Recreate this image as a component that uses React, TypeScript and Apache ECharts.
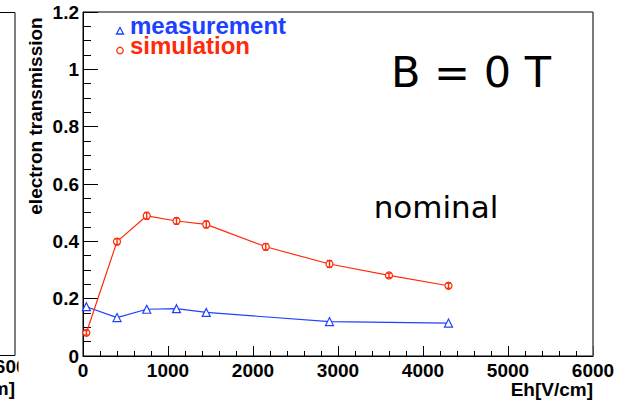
import React, { useEffect, useRef } from "react";
import * as echarts from "echarts";

const eh = [40, 400, 750, 1100, 1450, 2150, 2900, 3600, 4300];
const simulation = [0.081, 0.399, 0.489, 0.471, 0.459, 0.381, 0.321, 0.281, 0.245];
const simulationErr = [0.008, 0.01, 0.012, 0.011, 0.012, 0.011, 0.012, 0.008, 0.009];
const measEh = [40, 400, 750, 1100, 1450, 2900, 4300];
const measurement = [0.172, 0.134, 0.163, 0.165, 0.152, 0.12, 0.115];
const xTicks = [0, 1000, 2000, 3000, 4000, 5000, 6000];
const yTicks = [0, 0.2, 0.4, 0.6, 0.8, 1, 1.2];
const legendNames = ["measurement", "simulation"];
const xTitle = "Eh[V/cm]";
const yTitle = "electron transmission";

const RED = "#ff2a0a";
const BLUE = "#2040ff";
const FONT = "'Liberation Sans', Arial, Helvetica, sans-serif";
const HAND = "'Comic Sans MS', 'DejaVu Sans', sans-serif";

export default function App() {
  const ref = useRef<HTMLDivElement>(null);
  useEffect(() => {
    if (!ref.current) return;
    const chart = echarts.init(ref.current, undefined, { renderer: "svg" });
    const option: any = {
      animation: false,
      backgroundColor: "#fff",
      grid: {
        left: 83,
        right: 41,
        top: 12,
        bottom: 45,
        outerBoundsMode: "none",
        containLabel: false,
        show: true,
        borderColor: "#000",
        borderWidth: 1,
      },
      xAxis: {
        type: "value",
        min: xTicks[0],
        max: xTicks[xTicks.length - 1],
        interval: 1000,
        splitLine: { show: false },
        axisLine: { lineStyle: { color: "#000", width: 1 } },
        axisTick: { inside: true, length: 10, lineStyle: { color: "#000" } },
        minorTick: { show: true, splitNumber: 5, length: 5, lineStyle: { color: "#000" } },
        axisLabel: {
          margin: 7,
          fontFamily: FONT,
          fontWeight: "bold",
          fontSize: 19,
          lineHeight: 15,
          color: "#000",
          formatter: (v: number) => String(v),
        },
      },
      yAxis: {
        type: "value",
        min: yTicks[0],
        max: yTicks[yTicks.length - 1],
        interval: 0.2,
        splitLine: { show: false },
        axisLine: { show: true, lineStyle: { color: "#000", width: 1 } },
        axisTick: { show: true, inside: true, length: 15, lineStyle: { color: "#000" } },
        minorTick: { show: true, splitNumber: 4, length: 8, lineStyle: { color: "#000" } },
        axisLabel: {
          margin: 4,
          fontFamily: FONT,
          fontWeight: "bold",
          fontSize: 19,
          color: "#000",
          formatter: (v: number) => String(Math.round(v * 10) / 10),
        },
      },
      graphic: [
        {
          type: "line",
          shape: { x1: 593, y1: 12, x2: 593, y2: 356 },
          style: { stroke: "#777", lineWidth: 1.2 },
          z: 10,
        },
        // edge of neighbouring panel
        { type: "line", shape: { x1: 15, y1: 12.5, x2: 15, y2: 355.5 }, style: { stroke: "#000", lineWidth: 1 } },
        { type: "line", shape: { x1: 0, y1: 12.5, x2: 15, y2: 12.5 }, style: { stroke: "#000", lineWidth: 1 } },
        { type: "line", shape: { x1: 0, y1: 355.5, x2: 15, y2: 355.5 }, style: { stroke: "#000", lineWidth: 1 } },
        {
          type: "text",
          x: 16,
          y: 366,
          style: {
            text: "6000",
            fontFamily: FONT,
            fontWeight: "bold",
            fontSize: 19,
            lineHeight: 15,
            fill: "#000",
            align: "center",
            verticalAlign: "middle",
          },
          z: 1,
        },
        { type: "rect", shape: { x: 18.5, y: 357, width: 40, height: 22 }, style: { fill: "#fff" }, z: 2 },
        {
          type: "text",
          x: 15,
          y: 388,
          style: {
            text: "[V/cm]",
            fontFamily: FONT,
            fontWeight: "bold",
            fontSize: 19,
            lineHeight: 15,
            fill: "#000",
            align: "right",
            verticalAlign: "middle",
          },
        },
        {
          type: "text",
          x: 593,
          y: 389,
          style: {
            text: xTitle,
            fontFamily: FONT,
            fontWeight: "bold",
            fontSize: 19,
            lineHeight: 15,
            fill: "#000",
            align: "right",
            verticalAlign: "middle",
          },
        },
        {
          type: "text",
          x: 35,
          y: 116,
          rotation: Math.PI / 2,
          style: {
            text: yTitle,
            fontFamily: FONT,
            fontWeight: "bold",
            fontSize: 19,
            fill: "#000",
            align: "center",
            verticalAlign: "middle",
          },
        },
        // legend
        {
          type: "polygon",
          shape: { points: [[120, 27.5], [116.5, 34], [123.5, 34]] },
          style: { fill: "#fff", stroke: BLUE, lineWidth: 1.3 },
        },
        {
          type: "circle",
          shape: { cx: 120, cy: 50.5, r: 3.2 },
          style: { fill: "#fff", stroke: RED, lineWidth: 1.3 },
        },
        {
          type: "text",
          x: 130,
          y: 35,
          style: {
            text: legendNames[0],
            fontFamily: FONT,
            fontWeight: "bold",
            fontSize: 24,
            lineHeight: 20,
            fill: BLUE,
            align: "left",
            verticalAlign: "bottom",
          },
        },
        {
          type: "text",
          x: 130,
          y: 55,
          style: {
            text: legendNames[1],
            fontFamily: FONT,
            fontWeight: "bold",
            fontSize: 24,
            lineHeight: 20,
            fill: RED,
            align: "left",
            verticalAlign: "bottom",
          },
        },
        {
          type: "text",
          x: 471,
          y: 72,
          style: {
            text: "B = 0 T",
            fontFamily: HAND,
            fontSize: 43,
            fill: "#000",
            align: "center",
            verticalAlign: "middle",
          },
        },
        {
          type: "text",
          x: 436,
          y: 207,
          style: {
            text: "nominal",
            fontFamily: HAND,
            fontSize: 31,
            fill: "#000",
            align: "center",
            verticalAlign: "middle",
          },
        },
      ],
      series: [
        {
          name: legendNames[0],
          type: "line",
          data: measEh.map((x, i) => [x, measurement[i]]),
          symbol: "triangle",
          symbolSize: 8,
          showAllSymbol: true,
          itemStyle: { color: "#fff", borderColor: BLUE, borderWidth: 1.2 },
          lineStyle: { color: BLUE, width: 1.2 },
          z: 3,
        },
        {
          name: legendNames[1],
          type: "line",
          data: eh.map((x, i) => [x, simulation[i]]),
          symbol: "circle",
          symbolSize: 7,
          showAllSymbol: true,
          itemStyle: { color: "#fff", borderColor: RED, borderWidth: 1.2 },
          lineStyle: { color: RED, width: 1.2 },
          z: 3,
        },
        {
          name: "simErr",
          type: "custom",
          data: eh.map((x, i) => [x, simulation[i], simulationErr[i]]),
          z: 4,
          renderItem: (params: any, api: any) => {
            const x = api.value(0);
            const y = api.value(1);
            const e = api.value(2);
            const top = api.coord([x, y + e]);
            const bot = api.coord([x, y - e]);
            const style = { stroke: RED, lineWidth: 1.4 };
            return {
              type: "group",
              children: [
                { type: "line", shape: { x1: top[0], y1: top[1], x2: bot[0], y2: bot[1] }, style },
                { type: "line", shape: { x1: top[0] - 2.5, y1: top[1], x2: top[0] + 2.5, y2: top[1] }, style },
                { type: "line", shape: { x1: bot[0] - 2.5, y1: bot[1], x2: bot[0] + 2.5, y2: bot[1] }, style },
              ],
            };
          },
        },
      ],
    };
    chart.setOption(option);
    return () => chart.dispose();
  }, []);
  return (
    <div
      ref={ref}
      style={{ position: "fixed", left: 0, top: 0, width: 634, height: 401, background: "#fff" }}
    />
  );
}
